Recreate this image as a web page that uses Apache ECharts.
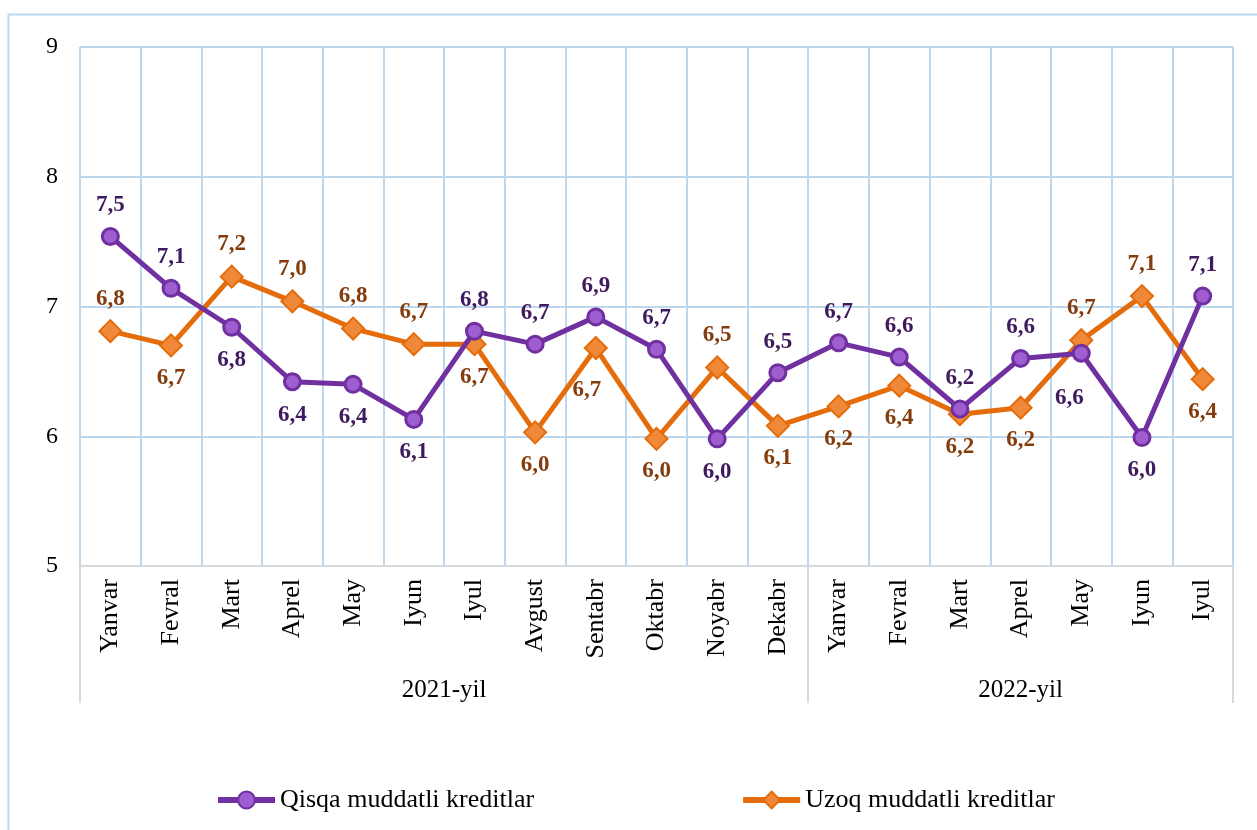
<!DOCTYPE html>
<html>
<head>
<meta charset="utf-8">
<script src="https://cdn.jsdelivr.net/npm/echarts@6/dist/echarts.min.js"></script>
<style>
  html, body { margin: 0; padding: 0; background: #fff; }
  #chart { width: 1257px; height: 830px; }
</style>
</head>
<body>
<div id="chart"></div>
<script>
// oylar (pastki o'q)
const months = ['Yanvar', 'Fevral', 'Mart', 'Aprel', 'May', 'Iyun', 'Iyul', 'Avgust', 'Sentabr', 'Oktabr', 'Noyabr', 'Dekabr',
  'Yanvar', 'Fevral', 'Mart', 'Aprel', 'May', 'Iyun', 'Iyul'];
// yillar va har bir yildagi oylar soni
const years = ['2021-yil', '2022-yil'];
const yearSizes = [12, 7];

// seriyalar
const qisqa = [7.54, 7.14, 6.84, 6.42, 6.40, 6.13, 6.81, 6.71, 6.92, 6.67, 5.98, 6.49,
  6.72, 6.61, 6.21, 6.60, 6.64, 5.99, 7.08];
const uzoq = [6.81, 6.70, 7.23, 7.04, 6.83, 6.71, 6.71, 6.03, 6.68, 5.98, 6.53, 6.08,
  6.23, 6.39, 6.17, 6.22, 6.74, 7.08, 6.44];

// y o'qi
const yTicks = [5, 6, 7, 8, 9];

// yorliqlar joylashuvi (faqat ko'rinish uchun)
const qisqaPos = ['top', 'top', 'bottom', 'bottom', 'bottom', 'bottom', 'top', 'top', 'top', 'top', 'bottom', 'top',
  'top', 'top', 'top', 'top', 'bottom', 'bottom', 'top'];
const uzoqPos = ['top', 'bottom', 'top', 'top', 'top', 'top', 'bottom', 'bottom', 'bottom', 'bottom', 'top', 'bottom',
  'bottom', 'bottom', 'bottom', 'bottom', 'top', 'top', 'bottom'];
const qisqaShift = { 16: [-12, 12] };
const uzoqShift = { 8: [-9, 10] };

const serif = 'Liberation Serif, Times New Roman, serif';

// yil chegaralari va markazlari
const yearBounds = [0];
yearSizes.forEach(n => yearBounds.push(yearBounds[yearBounds.length - 1] + n));
const yearCenters = yearSizes.map((n, i) => yearBounds[i] + n / 2);

function fmt(v) {
  return v.toFixed(1).replace('.', ',');
}

function buildData(values, pos, shift, dTop, dBottom) {
  return values.map((v, i) => {
    const item = {
      value: v,
      label: { position: pos[i], distance: pos[i] === 'top' ? dTop : dBottom }
    };
    if (shift[i]) item.label.offset = shift[i];
    return item;
  });
}

const chart = echarts.init(document.getElementById('chart'));

const option = {
  backgroundColor: '#fff',
  animation: false,
  graphic: [{
    type: 'rect',
    left: 6, top: 12,
    shape: { width: 1270, height: 840 },
    style: { fill: 'none', stroke: '#BDD7EE', lineWidth: 2 },
    silent: true
  }],
  grid: { left: 80, right: 24, top: 47, bottom: 264, containLabel: false },
  legend: {
    left: 210,
    top: 782,
    itemWidth: 57,
    itemHeight: 21,
    itemGap: 206,
    lineStyle: { width: 6 },
    textStyle: { fontFamily: serif, fontSize: 26, color: '#000' }
  },
  xAxis: [
    {
      type: 'category',
      data: months,
      boundaryGap: true,
      axisLine: { lineStyle: { color: '#D9D9D9', width: 2 } },
      axisTick: { show: false },
      splitLine: { show: true, interval: 0, lineStyle: { color: '#BDD7EE', width: 2 } },
      axisLabel: {
        interval: 0,
        rotate: 90,
        margin: 13,
        fontFamily: serif,
        fontSize: 26,
        color: '#000'
      }
    },
    {
      type: 'value',
      min: 0,
      max: months.length,
      position: 'bottom',
      offset: 137,
      axisLine: { show: false },
      splitLine: { show: false },
      axisTick: {
        show: true,
        inside: true,
        length: 137,
        customValues: yearBounds,
        lineStyle: { color: '#D9D9D9', width: 2 }
      },
      axisLabel: {
        show: true,
        inside: true,
        margin: 0,
        customValues: yearCenters,
        fontFamily: serif,
        fontSize: 25,
        color: '#000',
        formatter: function (v) {
          for (let i = 0; i < years.length; i++) {
            if (v > yearBounds[i] && v < yearBounds[i + 1]) return years[i];
          }
          return '';
        }
      }
    }
  ],
  yAxis: {
    type: 'value',
    min: yTicks[0],
    max: yTicks[yTicks.length - 1],
    interval: 1,
    axisLine: { show: false },
    axisTick: { show: false },
    splitLine: { lineStyle: { color: '#BDD7EE', width: 2 } },
    axisLabel: { margin: 22, fontFamily: serif, fontSize: 24, color: '#000' }
  },
  series: [
    {
      name: 'Qisqa muddatli kreditlar',
      type: 'line',
      xAxisIndex: 0,
      data: buildData(qisqa, qisqaPos, qisqaShift, 10, 12),
      symbol: 'circle',
      symbolSize: 16,
      z: 3,
      lineStyle: { color: '#7030A0', width: 5 },
      itemStyle: { color: '#9E5ED0', borderColor: '#7030A0', borderWidth: 3 },
      label: {
        show: true,
        fontFamily: serif,
        fontSize: 23,
        fontWeight: 'bold',
        color: '#3F1A5E',
        formatter: p => fmt(p.value)
      }
    },
    {
      name: 'Uzoq muddatli kreditlar',
      type: 'line',
      xAxisIndex: 0,
      data: buildData(uzoq, uzoqPos, uzoqShift, 9, 9),
      symbol: 'diamond',
      symbolSize: 22,
      z: 2,
      lineStyle: { color: '#E46C0A', width: 5 },
      itemStyle: { color: '#F0883A', borderColor: '#E46C0A', borderWidth: 2 },
      label: {
        show: true,
        fontFamily: serif,
        fontSize: 23,
        fontWeight: 'bold',
        color: '#843C0C',
        formatter: p => fmt(p.value)
      }
    }
  ]
};

chart.setOption(option);
</script>
</body>
</html>
